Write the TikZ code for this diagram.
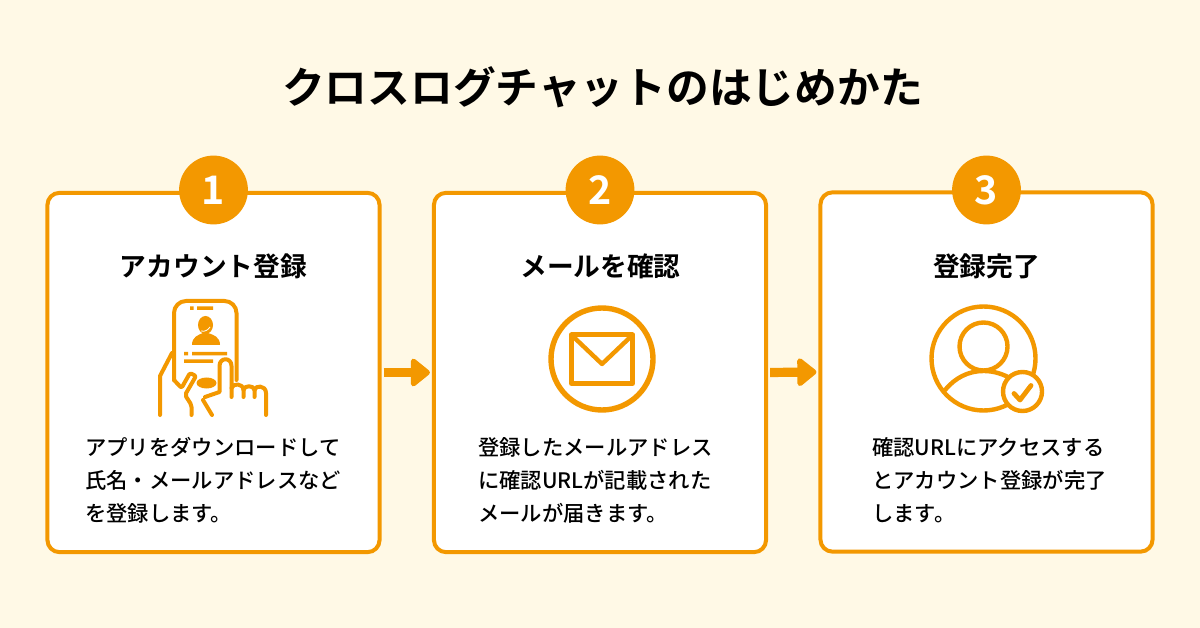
\documentclass[tikz,border=0pt]{standalone}
\usepackage{fontspec}
\setmainfont{Noto Sans CJK JP}
\newfontfamily\jpbold{Noto Sans CJK JP Bold}
\newfontfamily\jpmed{Noto Sans CJK JP Medium}
\usetikzlibrary{arrows.meta}
\definecolor{cream}{HTML}{FFF9E6}
\definecolor{amber}{HTML}{F39800}

\begin{document}
\begin{tikzpicture}
  [x=.025cm,y=-.025cm,line join=round,
   card/.style={draw=amber,fill=white,line width=.1cm,rounded corners=.3cm,minimum width=8.3cm,minimum height=8.98cm},
   badge/.style={circle,fill=amber,text=white,minimum size=1.72cm,inner sep=0pt,font=\jpbold\fontsize{28}{28}\selectfont},
   heading/.style={font=\jpbold\fontsize{19}{19}\selectfont},
   body/.style={align=left,anchor=north west,inner sep=0pt,font=\jpmed\fontsize{15.15}{23.6}\selectfont},
   flow/.style={draw=amber,line width=.23cm,shorten <=.05cm,shorten >=.05cm,-{Triangle[length=.52cm,width=.8cm,round]}},
   icon/.style={draw=amber,line width=.1cm,line cap=round}]
  \useasboundingbox (0,0) rectangle (1200,628);
  \fill[cream] (0,0) rectangle (1200,628);
  \node[font=\jpbold\fontsize{30.4}{30.4}\selectfont] (title) at (602.5,87) {クロスログチャットのはじめかた};
  % cards
  \node[card] (card1) at (213.5,372.5) {};
  \node[card] (card2) at (600,372.5) {};
  \node[card] (card3) at (986.5,372) {};
  \foreach \n/\x in {1/213.5,2/600,3/986.5}
    \node[badge] (num\n) at (\x,190) {\n};
  \foreach \from/\to in {card1/card2,card2/card3}
    \draw[flow] (\from.east) -- (\to.west);
  \node[heading] (head1) at (213.5,266) {アカウント登録};
  \node[heading] (head2) at (600.5,266) {メールを確認};
  \node[heading] (head3) at (986.5,266) {登録完了};
  \node[body] (text1) at (85,437) {アプリをダウンロードして\\氏名・メールアドレスなど\\を登録します。};
  \node[body] (text2) at (478,437) {登録したメールアドレス\\に確認URLが記載された\\メールが届きます。};
  \node[body] (text3) at (872,437) {確認URLにアクセスする\\とアカウント登録が完了\\します。};
  % phone icon
  \draw[icon,rounded corners=.3cm] (174,380) -- (174,301) -- (236.5,301) -- (236.5,380);
  \draw[icon] (160,415) -- (160,376) -- (172,353);
  \draw[icon,rounded corners=.05cm] (174,380) -- (181.5,388) -- (190,373) -- (196,376) -- (185,395) -- (191.5,405) -- (191.5,415);
  \draw[icon] (203,400) -- (212,415);
  \draw[icon] (205,397) -- (219.5,392) -- (219.5,366) .. controls (219.5,357) and (231.5,357) .. (231.5,366) -- (231.5,397);
  \draw[icon] (231.5,388) .. controls (233,383) and (243,383) .. (243.5,390) -- (243.5,397);
  \draw[icon] (243.5,390) .. controls (244,385) and (254,385) .. (254.5,390) -- (254.5,397);
  \draw[icon] (254.5,390) .. controls (255,385) and (266,385) .. (266,393) -- (266,415);
  \fill[amber] (190,306.5) rectangle (193.5,310) (197,306.5) rectangle (213,310);
  \fill[amber] (184,352) rectangle (188,355.5) (192,352) rectangle (227,355.5) (184,359.5) rectangle (213,363);
  \fill[amber] (205.5,325) ellipse (7.5 and 9);
  \fill[amber] (192,345) .. controls (192,337) and (198,335) .. (203,333) -- (208,333) .. controls (214,335) and (220,337) .. (220,345) -- cycle;
  \draw[white,line width=.02cm] (201,331) .. controls (205,332) and (208,330) .. (210,327);
  \fill[amber] (206.5,383) ellipse (10 and 5.5);
  % mail icon
  \draw[icon,line width=.135cm] (602,359) circle (51);
  \draw[icon,line width=.125cm] (571.5,335) rectangle (632.5,383.5);
  \draw[icon,line width=.11cm] (571.5,335) -- (602,364) -- (632.5,335);
  % user icon
  \draw[icon,line width=.11cm] (983.5,358.5) circle (52);
  \draw[icon,line width=.11cm] (983.5,346.5) circle (24);
  \draw[icon,line width=.11cm] (945,390) .. controls (955,378) and (968,371) .. (983.5,371) .. controls (992,371) and (1000,373) .. (1008,377);
  \draw[icon,line width=.11cm,fill=white] (1022.5,391.5) circle (19.5);
  \draw[icon,line width=.12cm] (1014,393.5) -- (1020,400) -- (1031,385.5);
\end{tikzpicture}
\end{document}
